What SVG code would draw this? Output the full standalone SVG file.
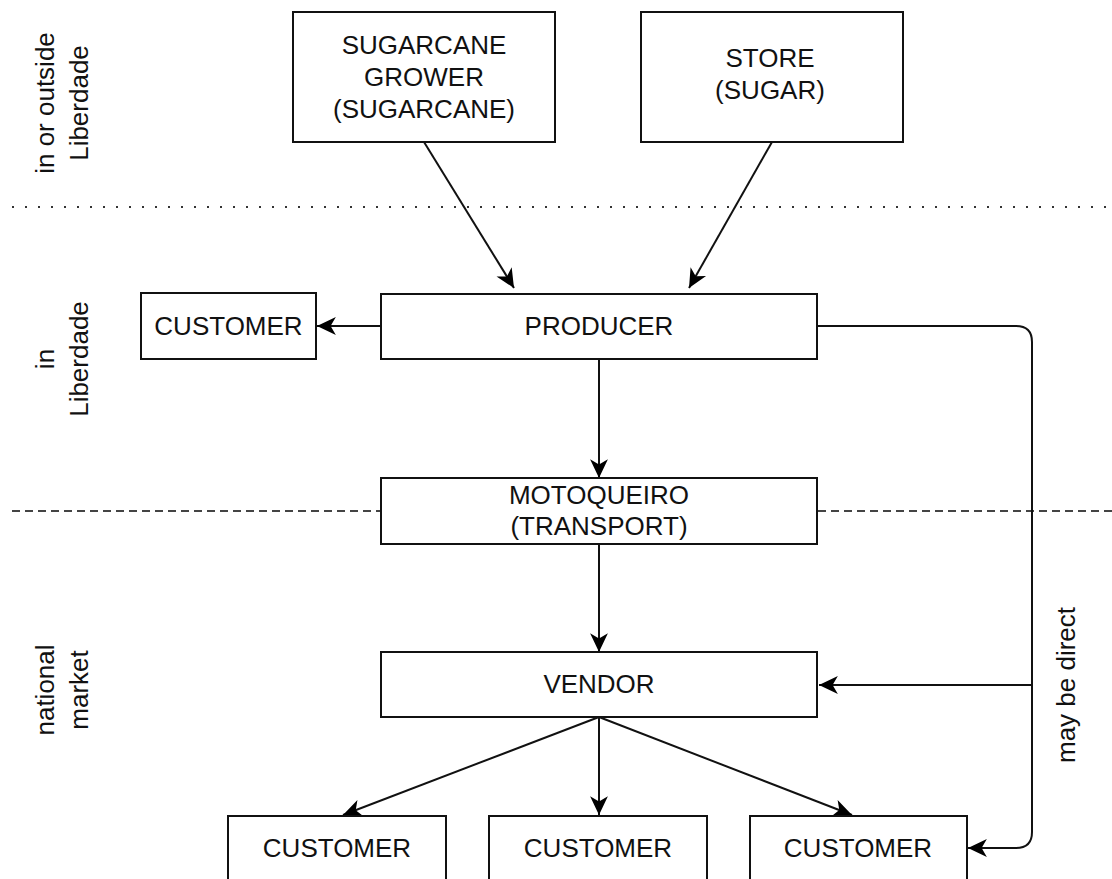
<svg xmlns="http://www.w3.org/2000/svg" width="1112" height="879" viewBox="0 0 1112 879">
  <defs>
    <marker id="arrow" markerUnits="userSpaceOnUse" markerWidth="22" markerHeight="22" viewBox="-20 -10 21 20" refX="0" refY="0" orient="auto">
      <path d="M0,0 L-18,-8.5 L-13,0 L-18,8.5 Z" fill="#000"/>
    </marker>
  </defs>
  <style>
    .box { fill: #fff; stroke: #111; stroke-width: 2; }
    .lbl { font-family: "Liberation Sans", Arial, Helvetica, sans-serif; font-size: 26px; fill: #111; text-anchor: middle; }
    .edge { fill: none; stroke: #111; stroke-width: 2; marker-end: url(#arrow); }
    .dotted { fill: none; stroke: #333; stroke-width: 2; stroke-dasharray: 2 11; }
    .dashed { fill: none; stroke: #444; stroke-width: 2; stroke-dasharray: 8 5; }
  </style>
  <rect width="1112" height="879" fill="#fff"/>

  <!-- zone separators -->
  <g id="separators">
    <line class="dotted" x1="12" y1="207" x2="1112" y2="207"/>
    <line class="dashed" x1="12" y1="511" x2="1112" y2="511"/>
  </g>

  <!-- zone labels -->
  <g id="zone-labels" class="lbl">
    <text transform="translate(0,103) rotate(-90)"><tspan x="0" y="54">in or outside</tspan><tspan x="0" y="88">Liberdade</tspan></text>
    <text transform="translate(0,359) rotate(-90)"><tspan x="0" y="54">in</tspan><tspan x="0" y="88">Liberdade</tspan></text>
    <text transform="translate(0,690) rotate(-90)"><tspan x="0" y="54">national</tspan><tspan x="0" y="88">market</tspan></text>
  </g>

  <!-- connectors -->
  <g id="connectors">
    <line class="edge" x1="424" y1="142" x2="514" y2="288"/>
    <line class="edge" x1="772" y1="142" x2="689" y2="288"/>
    <line class="edge" x1="381" y1="326" x2="317" y2="326"/>
    <line class="edge" x1="599" y1="359" x2="599" y2="478"/>
    <line class="edge" x1="599" y1="544" x2="599" y2="652"/>
    <line class="edge" x1="599" y1="717" x2="343" y2="815"/>
    <line class="edge" x1="599" y1="717" x2="599" y2="815"/>
    <line class="edge" x1="599" y1="717" x2="852" y2="815"/>
    <path class="edge" d="M817,326 H1016 Q1032,326 1032,342 V832 Q1032,848 1016,848 H968"/>
    <line class="edge" x1="1032" y1="685" x2="819" y2="685"/>
    <text class="lbl" transform="translate(1075,685) rotate(-90)" x="0" y="0">may be direct</text>
  </g>

  <g id="grower">
    <rect class="box" x="293" y="12" width="262" height="130"/>
    <text class="lbl"><tspan x="424" y="54">SUGARCANE</tspan><tspan x="424" y="86">GROWER</tspan><tspan x="424" y="118">(SUGARCANE)</tspan></text>
  </g>

  <g id="store">
    <rect class="box" x="641" y="12" width="262" height="130"/>
    <text class="lbl"><tspan x="770" y="67">STORE</tspan><tspan x="770" y="99">(SUGAR)</tspan></text>
  </g>

  <g id="producer">
    <rect class="box" x="381" y="294" width="436" height="65"/>
    <text class="lbl" x="599" y="335">PRODUCER</text>
  </g>

  <g id="customer-local">
    <rect class="box" x="141" y="293" width="175" height="66"/>
    <text class="lbl" x="228.5" y="335">CUSTOMER</text>
  </g>

  <g id="motoqueiro">
    <rect class="box" x="381" y="478" width="436" height="66"/>
    <text class="lbl"><tspan x="599" y="504">MOTOQUEIRO</tspan><tspan x="599" y="535">(TRANSPORT)</tspan></text>
  </g>

  <g id="vendor">
    <rect class="box" x="381" y="652" width="436" height="65"/>
    <text class="lbl" x="599" y="693">VENDOR</text>
  </g>

  <g id="customer-1">
    <rect class="box" x="228" y="816" width="218" height="70"/>
    <text class="lbl" x="337" y="857">CUSTOMER</text>
  </g>

  <g id="customer-2">
    <rect class="box" x="489" y="816" width="218" height="70"/>
    <text class="lbl" x="598" y="857">CUSTOMER</text>
  </g>

  <g id="customer-3">
    <rect class="box" x="750" y="816" width="217" height="70"/>
    <text class="lbl" x="858" y="857">CUSTOMER</text>
  </g>
</svg>
